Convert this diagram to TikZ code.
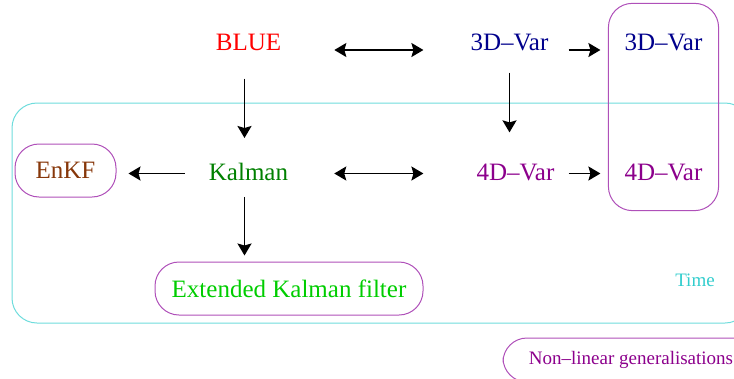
\documentclass[tikz,border=0pt]{standalone}
\usepackage{fontspec}
\setmainfont{Liberation Serif}
\usetikzlibrary{arrows.meta,fit}
\definecolor{navyvar}{RGB}{0,0,140}
\definecolor{purplevar}{RGB}{140,0,140}
\definecolor{kalgreen}{RGB}{0,128,0}
\definecolor{ekfgreen}{RGB}{0,205,0}
\definecolor{enkfbrown}{RGB}{135,55,10}
\definecolor{timecyan}{RGB}{50,205,205}
\definecolor{boxpurple}{RGB}{175,80,185}
\definecolor{framecyan}{RGB}{110,220,220}

\begin{document}
\begin{tikzpicture}[x=1pt, y=-1pt,
                    lbl/.style={font=\fontsize{25}{30}\selectfont, inner sep=0pt},
                    small/.style={font=\fontsize{19}{23}\selectfont, inner sep=0pt},
                    grp/.style={draw=boxpurple, line width=1pt, rounded corners=24pt},
                    arr/.style={line width=1.8pt, -{Stealth[length=12pt,width=14pt,inset=2pt]}},
                    darr/.style={line width=1.8pt, {Stealth[length=12pt,width=14pt,inset=2pt]}-{Stealth[length=12pt,width=14pt,inset=2pt]}}]
  \useasboundingbox (0,0) rectangle (734,378);
  % time frame
  \draw[framecyan, line width=1pt, rounded corners=25pt] (12,103) rectangle (750,323);
  \node[small, text=timecyan] (time) at (695,280) {Time};

  \node[lbl, text=red] (blue) at (248.5,42) {BLUE};
  \node[lbl, right of=blue, node distance=261pt, text=navyvar] (var3) {3D\textendash Var};
  \node[lbl, right of=var3, node distance=154pt, text=navyvar] (var3b) {3D\textendash Var};
  \node[lbl, below of=blue, node distance=130pt, text=kalgreen] (kalman) {Kalman};
  \node[lbl, below of=var3, node distance=130pt, xshift=6pt, text=purplevar] (var4) {4D\textendash Var};
  \node[lbl, below of=var3b, node distance=130pt, text=purplevar] (var4b) {4D\textendash Var};
  \node[lbl, grp, text=enkfbrown, minimum width=101pt, minimum height=53pt] (enkf) at (65.5,170.5) {EnKF};
  \node[lbl, grp, text=ekfgreen, minimum width=268pt, minimum height=53pt] (ekf) at (289,288.5) {Extended Kalman filter};
  \node[grp, fit=(var3b)(var4b), inner xsep=16pt, inner ysep=30pt] (nonlin) {};
  \node[small, grp, text=purplevar, minimum width=256pt, minimum height=44pt] (gen) at (631,360) {Non\textendash linear generalisations};

  \draw[darr, shorten <=53pt, shorten >=47pt] ([yshift=-8pt]blue.east) -- ([yshift=-8pt]var3.west);
  \draw[arr, shorten <=20pt, shorten >=24pt] ([yshift=-8pt]var3.east) -- ([yshift=-8pt]var3b.west);
  \draw[arr, shorten <=28pt, shorten >=25pt] ([xshift=-4pt]blue.south) -- ([xshift=-4pt]kalman.north);
  \draw[arr, shorten <=22pt, shorten >=31pt] (var3.south) -- (var3.south |- var4.north);
  \draw[arr, shorten <=24pt, shorten >=12pt] ([yshift=-1.5pt]kalman.west) -- ([yshift=-1.5pt]kalman.west -| enkf.east);
  \draw[darr, shorten <=46pt, shorten >=53pt] ([yshift=-1.5pt]kalman.east) -- ([yshift=-1.5pt]var4.west);
  \draw[arr, shorten <=14pt, shorten >=24pt] ([yshift=-1.5pt]var4.east) -- ([yshift=-1.5pt]var4b.west);
  \draw[arr, shorten <=16pt, shorten >=6pt] ([xshift=-4pt]kalman.south) -- ([xshift=-4pt]kalman.south |- ekf.north);
\end{tikzpicture}
\end{document}
